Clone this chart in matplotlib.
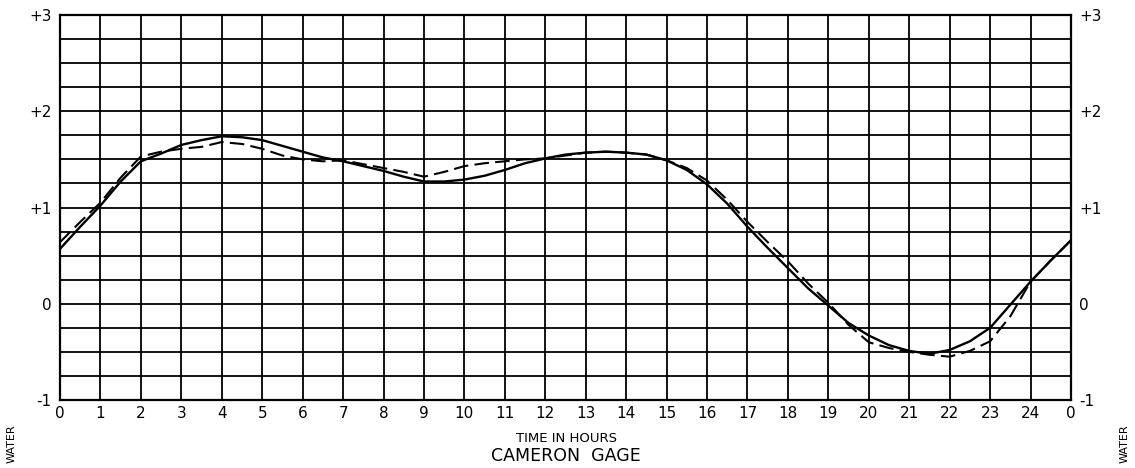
import numpy as np
import matplotlib
matplotlib.use("Agg")
import matplotlib.pyplot as plt
from matplotlib.ticker import MultipleLocator

# hours (half-hour readings off the gage record)
hours = [0, 0.5, 1, 1.5, 2, 2.5, 3, 3.5, 4, 4.5, 5, 5.5, 6, 6.5, 7, 7.5,
         8, 8.5, 9, 9.5, 10, 10.5, 11, 11.5, 12, 12.5, 13, 13.5, 14, 14.5,
         15, 15.5, 16, 16.5, 17, 17.5, 18, 18.5, 19, 19.5, 20, 20.5, 21,
         21.5, 22, 22.5, 23, 23.5, 24, 24.5, 25]

# solid curve
stage_solid = [0.57, 0.80, 1.02, 1.27, 1.48, 1.56, 1.65, 1.70, 1.74, 1.73,
               1.70, 1.64, 1.58, 1.52, 1.48, 1.43, 1.38, 1.32, 1.27, 1.27,
               1.29, 1.33, 1.39, 1.46, 1.51, 1.55, 1.57, 1.58, 1.57, 1.55,
               1.49, 1.39, 1.24, 1.04, 0.80, 0.58, 0.37, 0.16, -0.02, -0.20,
               -0.33, -0.43, -0.49, -0.52, -0.48, -0.39, -0.25, -0.01, 0.23,
               0.45, 0.66]

# dashed curve
stage_dashed = [0.64, 0.85, 1.05, 1.31, 1.53, 1.58, 1.61, 1.63, 1.68, 1.66,
                1.61, 1.54, 1.50, 1.48, 1.49, 1.45, 1.41, 1.37, 1.32, 1.37,
                1.43, 1.46, 1.48, 1.50, 1.51, 1.54, 1.57, 1.58, 1.57, 1.55,
                1.49, 1.41, 1.28, 1.08, 0.85, 0.64, 0.44, 0.21, 0.01, -0.22,
                -0.40, -0.46, -0.50, -0.53, -0.55, -0.49, -0.39, -0.13, 0.23,
                0.45, 0.66]

x_labels = [str(h) for h in range(25)] + ["0"]
y_ticks = [-1, 0, 1, 2, 3]
y_labels = ["-1", "0", "+1", "+2", "+3"]

plt.rcParams['font.family'] = ['DejaVu Sans']

fig = plt.figure(figsize=(11.35, 4.68), dpi=100)
ax = fig.add_axes([60 / 1135, 68 / 468, 1011 / 1135, 385 / 468])

# grid first, curves on top
ax.set_xlim(0, 25)
ax.set_ylim(-1, 3)
ax.set_xticks(np.arange(0, 26, 1))
ax.set_xticklabels(x_labels)
ax.set_yticks(y_ticks)
ax.set_yticklabels(y_labels)
ax.yaxis.set_minor_locator(MultipleLocator(0.25))
ax.grid(which="both", color="black", linewidth=1.3)
ax.set_axisbelow(True)

ax.plot(hours, stage_solid, color="black", linewidth=1.7)
ax.plot(hours, stage_dashed, color="black", linewidth=1.5,
        linestyle=(0, (7, 3)))

for s in ax.spines.values():
    s.set_linewidth(1.6)
    s.set_color("black")

ax.tick_params(which="both", length=0, labelsize=11)
ax.tick_params(axis="x", pad=4)
ax.tick_params(axis="y", pad=6, labelright=True)

# axis titles
fig.text(566 / 1135, 1 - 438 / 468, "TIME IN HOURS", ha="center",
         va="center", fontsize=9.5)
fig.text(566 / 1135, 1 - 456 / 468, "CAMERON  GAGE", ha="center",
         va="center", fontsize=12.5)

# side labels, only the tail end fits on the page
fig.text(12 / 1135, 1 - 424 / 468, "WATER", rotation=90,
         ha="center", va="top", fontsize=8)
fig.text(1125 / 1135, 1 - 424 / 468, "WATER", rotation=90,
         ha="center", va="top", fontsize=8)

fig.savefig("out.png", dpi=100)
